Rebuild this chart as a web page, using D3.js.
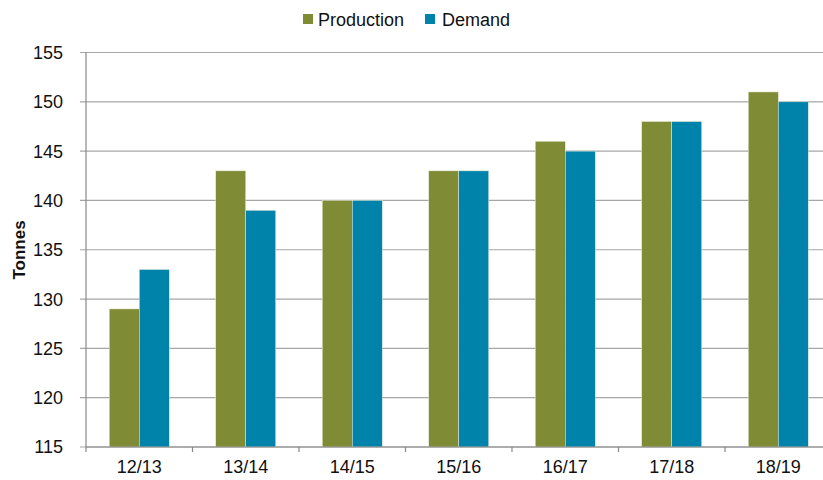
<!DOCTYPE html>
<html><head><meta charset="utf-8">
<script src="https://cdn.jsdelivr.net/npm/d3@7"></script>
<style>body{margin:0;background:#fff}svg{display:block}text{font-family:"Liberation Sans",Arial,sans-serif}</style>
</head><body>
<svg id="c" width="823" height="480"></svg>
<script>
const categories = ["12/13","13/14","14/15","15/16","16/17","17/18","18/19"];
const production = [129,143,140,143,146,148,151];
const demand = [133,139,140,143,145,148,150];
const yTicks = [115,120,125,130,135,140,145,150,155];
const seriesNames = ["Production","Demand"];
const colors = ["#7F8B35","#0083AB"];

const svg = d3.select("#c");
const W = 831.5;
const x = d3.scaleBand().domain(categories).range([86, W]).paddingInner(0).paddingOuter(0);
const x1 = d3.scaleBand().domain(seriesNames).range([0, x.bandwidth()]).paddingInner(0).paddingOuter(0.775);
const y = d3.scaleLinear().domain([115,155]).range([447,52.5]);

// gridlines
svg.append("g").selectAll("line").data(yTicks).join("line")
  .attr("x1",80).attr("x2",W).attr("y1",d=>y(d)).attr("y2",d=>y(d))
  .attr("stroke","#A6A6A6").attr("stroke-width",1.2);

// y labels
svg.append("g").selectAll("text").data(yTicks).join("text")
  .attr("x",63).attr("y",d=>y(d)).attr("dy","0.36em").attr("text-anchor","end")
  .attr("font-size",18).attr("fill","#111").text(d=>d);

// bars
const data = categories.map((c,i)=>({c, vals:[production[i],demand[i]]}));
const g = svg.append("g").selectAll("g").data(data).join("g").attr("transform",d=>`translate(${x(d.c)},0)`);
g.selectAll("rect").data(d=>d.vals.map((v,j)=>({s:seriesNames[j],v,j}))).join("rect")
  .attr("x",d=>x1(d.s)).attr("width",x1.bandwidth())
  .attr("y",d=>y(d.v)).attr("height",d=>y(115)-y(d.v))
  .attr("fill",d=>colors[d.j]).attr("stroke","#e8ecd8").attr("stroke-width",0.5);

// axes lines
svg.append("line").attr("x1",86).attr("x2",86).attr("y1",52.5).attr("y2",447).attr("stroke","#888").attr("stroke-width",1.2);
svg.append("line").attr("x1",86).attr("x2",W).attr("y1",447).attr("y2",447).attr("stroke","#888").attr("stroke-width",1.2);
// x ticks
const tickPos = categories.map(c=>x(c)).concat([W]);
svg.append("g").selectAll("line").data(tickPos).join("line")
  .attr("x1",d=>d).attr("x2",d=>d).attr("y1",447).attr("y2",452).attr("stroke","#888").attr("stroke-width",1.2);
// x labels
svg.append("g").selectAll("text").data(categories).join("text")
  .attr("x",d=>x(d)+x.bandwidth()/2).attr("y",473).attr("text-anchor","middle")
  .attr("font-size",18).attr("fill","#111").text(d=>d);

// y title
svg.append("text").attr("transform","translate(25,250) rotate(-90)").attr("text-anchor","middle")
  .attr("font-size",17).attr("font-weight","bold").attr("fill","#111").text("Tonnes");

// legend
const leg = [{n:"Production",sx:303,tx:318},{n:"Demand",sx:425,tx:442}];
leg.forEach((l,i)=>{
  svg.append("rect").attr("x",l.sx).attr("y",14).attr("width",10).attr("height",10).attr("fill",colors[i]);
  svg.append("text").attr("x",l.tx).attr("y",26).attr("font-size",18).attr("fill","#111").text(l.n);
});
</script>
</body></html>
